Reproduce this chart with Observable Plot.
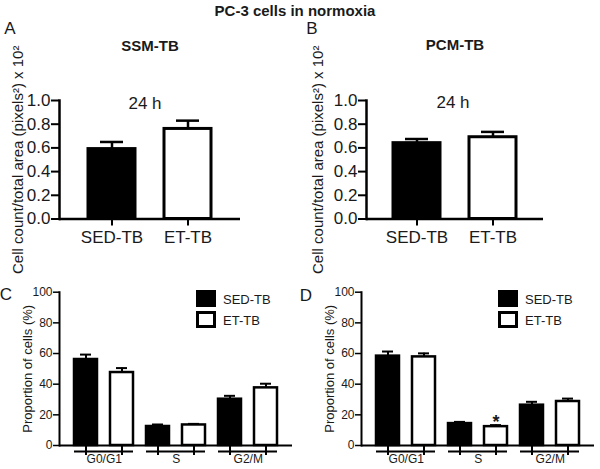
<!DOCTYPE html>
<html><head><meta charset="utf-8">
<script src="https://cdn.jsdelivr.net/npm/d3@7"></script>
<script src="https://cdn.jsdelivr.net/npm/@observablehq/plot@0.6"></script>
<style>
body{margin:0;background:#fff;}
#fig{position:relative;width:600px;height:469px;font-family:'Liberation Sans',Arial,sans-serif;color:#1a1a1a;overflow:hidden;background:#fff;}
#fig > svg{position:absolute;}
.lab{position:absolute;transform:translate(-50%,-50%);line-height:1;white-space:nowrap;}
.box{position:absolute;box-sizing:border-box;border:3px solid #000;}
</style></head><body><div id="fig"></div>
<script>
// ---- text ----
const mainTitle = "PC-3 cells in normoxia";
const panelLetters = ["A", "B", "C", "D"];
const panelTitles = ["SSM-TB", "PCM-TB"];
const timeLabel = "24 h";
const treatments = ["SED-TB", "ET-TB"];
const treatmentColors = ["#000000", "#ffffff"];
// ---- panels A/B ----
const areaYLabel = "Cell count/total area (pixels\u00B2) x 10\u00B2";
const areaTicks = [0, 0.2, 0.4, 0.6, 0.8, 1.0];
const ssmMean = [0.59, 0.76];
const ssmErr = [0.06, 0.07];
const pcmMean = [0.64, 0.69];
const pcmErr = [0.035, 0.045];
// ---- panels C/D ----
const phases = ["G0/G1", "S", "G2/M"];
const cycleYLabel = "Proportion of cells (%)";
const cycleTicks = [0, 20, 40, 60, 80, 100];
const cSedMean = [56.1, 12.4, 30.2];
const cSedErr = [3.2, 1.3, 2.2];
const cEtMean = [47.6, 13.4, 37.6];
const cEtErr = [2.9, 0.7, 2.7];
const dSedMean = [58.3, 14.3, 26.3];
const dSedErr = [3.0, 1.1, 2.2];
const dEtMean = [57.8, 12.3, 28.7];
const dEtErr = [2.3, 1.0, 1.9];
const dSignificant = [{phase: "S", treatment: "ET-TB", mark: "*"}];

const fig = document.getElementById("fig");
const baseStyle = {background: "transparent", overflow: "visible", fontFamily: "'Liberation Sans', Arial, sans-serif", color: "#1a1a1a"};
const colorScale = {domain: treatments, range: treatmentColors};

function place(svg, left, top) {
  svg.style.position = "absolute";
  svg.style.left = left + "px";
  svg.style.top = top + "px";
  fig.appendChild(svg);
}
function label(text, x, y, size, weight) {
  const d = document.createElement("div");
  d.className = "lab";
  d.textContent = text;
  d.style.left = x + "px";
  d.style.top = y + "px";
  d.style.fontSize = size + "px";
  d.style.fontWeight = weight || "normal";
  fig.appendChild(d);
}

function areaPanel(mean, err, o) {
  const data = treatments.map((t, i) => ({t, v: mean[i], hi: mean[i] + err[i]}));
  return Plot.plot({
    width: o.width, height: 280,
    marginTop: 100, marginBottom: 61.5, marginLeft: o.ml, marginRight: o.mr,
    style: baseStyle,
    x: {type: "band", domain: treatments, paddingInner: 0.38, paddingOuter: o.po, label: null},
    y: {domain: [0, 1], label: null},
    color: colorScale,
    marks: [
      Plot.ruleX(data, {x: "t", y1: "v", y2: "hi", stroke: "#000", strokeWidth: 2.5}),
      Plot.tickY(data, {x: "t", y: "hi", stroke: "#000", strokeWidth: 2.5, insetLeft: 12, insetRight: 12}),
      Plot.barY(data, {x: "t", y: "v", fill: "t", stroke: "#000", strokeWidth: 3}),
      Plot.ruleY([0], {stroke: "#000", strokeWidth: 2.5}),
      Plot.frame({anchor: "left", stroke: "#000", strokeWidth: 2.5}),
      Plot.axisY({ticks: areaTicks, tickFormat: d3.format(".1f"), tickSize: 8, tickPadding: 1, fontSize: 17, stroke: "#000", strokeWidth: 2, label: null}),
      Plot.axisX({tickSize: 7, tickPadding: 5, fontSize: 17, stroke: "#000", strokeWidth: 2, label: null}),
      Plot.text([areaYLabel], {frameAnchor: "left", textAnchor: "middle", rotate: -90, dx: o.ldx, fontSize: 15})
    ]
  });
}

function key(p, t) { return p + "|" + t; }
function cyclePanel(sedM, sedE, etM, etE, sig, o) {
  const keys = [];
  const data = [];
  phases.forEach((p, i) => {
    keys.push(key(p, treatments[0]), key(p, treatments[1]));
    data.push({k: key(p, treatments[0]), t: treatments[0], v: sedM[i], hi: sedM[i] + sedE[i]});
    data.push({k: key(p, treatments[1]), t: treatments[1], v: etM[i], hi: etM[i] + etE[i]});
  });
  const pi = 0.35, po = 0.37;
  const step = (o.width - o.ml - o.mr) / (keys.length - pi + 2 * po);
  const sigData = sig.map(s => ({...s, k: key(s.phase, s.treatment), hi: data.find(d => d.k === key(s.phase, s.treatment)).hi}));
  return Plot.plot({
    width: o.width, height: 229,
    marginTop: 51.7, marginBottom: 24, marginLeft: o.ml, marginRight: o.mr,
    style: baseStyle,
    x: {type: "band", domain: keys, paddingInner: pi, paddingOuter: po, label: null},
    y: {domain: [0, 100], label: null},
    color: colorScale,
    marks: [
      Plot.ruleX(data, {x: "k", y1: "v", y2: "hi", stroke: "#000", strokeWidth: 2}),
      Plot.tickY(data, {x: "k", y: "hi", stroke: "#000", strokeWidth: 2, insetLeft: 6, insetRight: 6}),
      Plot.barY(data, {x: "k", y: "v", fill: "t", stroke: "#000", strokeWidth: 2.5}),
      Plot.ruleY([0], {stroke: "#000", strokeWidth: 2}),
      Plot.frame({anchor: "left", stroke: "#000", strokeWidth: 2}),
      Plot.axisY({ticks: cycleTicks, tickSize: 6, tickPadding: 1, fontSize: 12, stroke: "#000", strokeWidth: 1.5, label: null}),
      Plot.axisX({tickSize: 10, tickFormat: () => "", stroke: "#000", strokeWidth: 2, label: null}),
      Plot.ruleY(phases, {x1: p => key(p, treatments[0]), x2: p => key(p, treatments[1]), y: () => 0, dy: 6, stroke: "#000", strokeWidth: 2}),
      Plot.text(phases, {x: p => key(p, treatments[0]), frameAnchor: "bottom", dx: step / 2, dy: 17, fontSize: 12}),
      Plot.text(sigData, {x: "k", y: "hi", text: "mark", dy: -3, fontSize: 18, fontWeight: "bold"}),
      Plot.text([cycleYLabel], {frameAnchor: "left", textAnchor: "middle", rotate: -90, dx: o.ldx, fontSize: 13})
    ]
  });
}

place(areaPanel(ssmMean, ssmErr, {width: 300, ml: 59, mr: 60, po: 0.37, ldx: -41}), 0, 0);
place(areaPanel(pcmMean, pcmErr, {width: 300, ml: 66, mr: 57, po: 0.35, ldx: -48}), 300, 0);
place(cyclePanel(cSedMean, cSedErr, cEtMean, cEtErr, [], {width: 300, ml: 59, mr: 8, ldx: -32}), 0, 240);
place(cyclePanel(dSedMean, dSedErr, dEtMean, dEtErr, dSignificant, {width: 298, ml: 59, mr: 6, ldx: -32}), 302, 240);

label(mainTitle, 295, 10, 15, "bold");
label(panelLetters[0], 10, 28, 17);
label(panelLetters[1], 312, 28, 17);
label(panelLetters[2], 6, 294, 17);
label(panelLetters[3], 306, 295, 17);
label(panelTitles[0], 150, 45, 15, "bold");
label(panelTitles[1], 455, 44, 15, "bold");
label(timeLabel, 145, 103, 17);
label(timeLabel, 453, 102, 17);

function legend(x0) {
  const rows = [{y: 290, h: 17}, {y: 311, h: 17}];
  treatments.forEach((t, i) => {
    const b = document.createElement("div");
    b.className = "box";
    b.style.left = x0 + "px";
    b.style.top = rows[i].y + "px";
    b.style.width = "20px";
    b.style.height = rows[i].h + "px";
    b.style.background = treatmentColors[i];
    fig.appendChild(b);
    const l = document.createElement("div");
    l.className = "lab";
    l.style.transform = "translate(0,-50%)";
    l.style.left = (x0 + 27) + "px";
    l.style.top = (rows[i].y + rows[i].h / 2) + "px";
    l.style.fontSize = "13px";
    l.textContent = t;
    fig.appendChild(l);
  });
}
legend(196);
legend(498);
</script></body></html>
